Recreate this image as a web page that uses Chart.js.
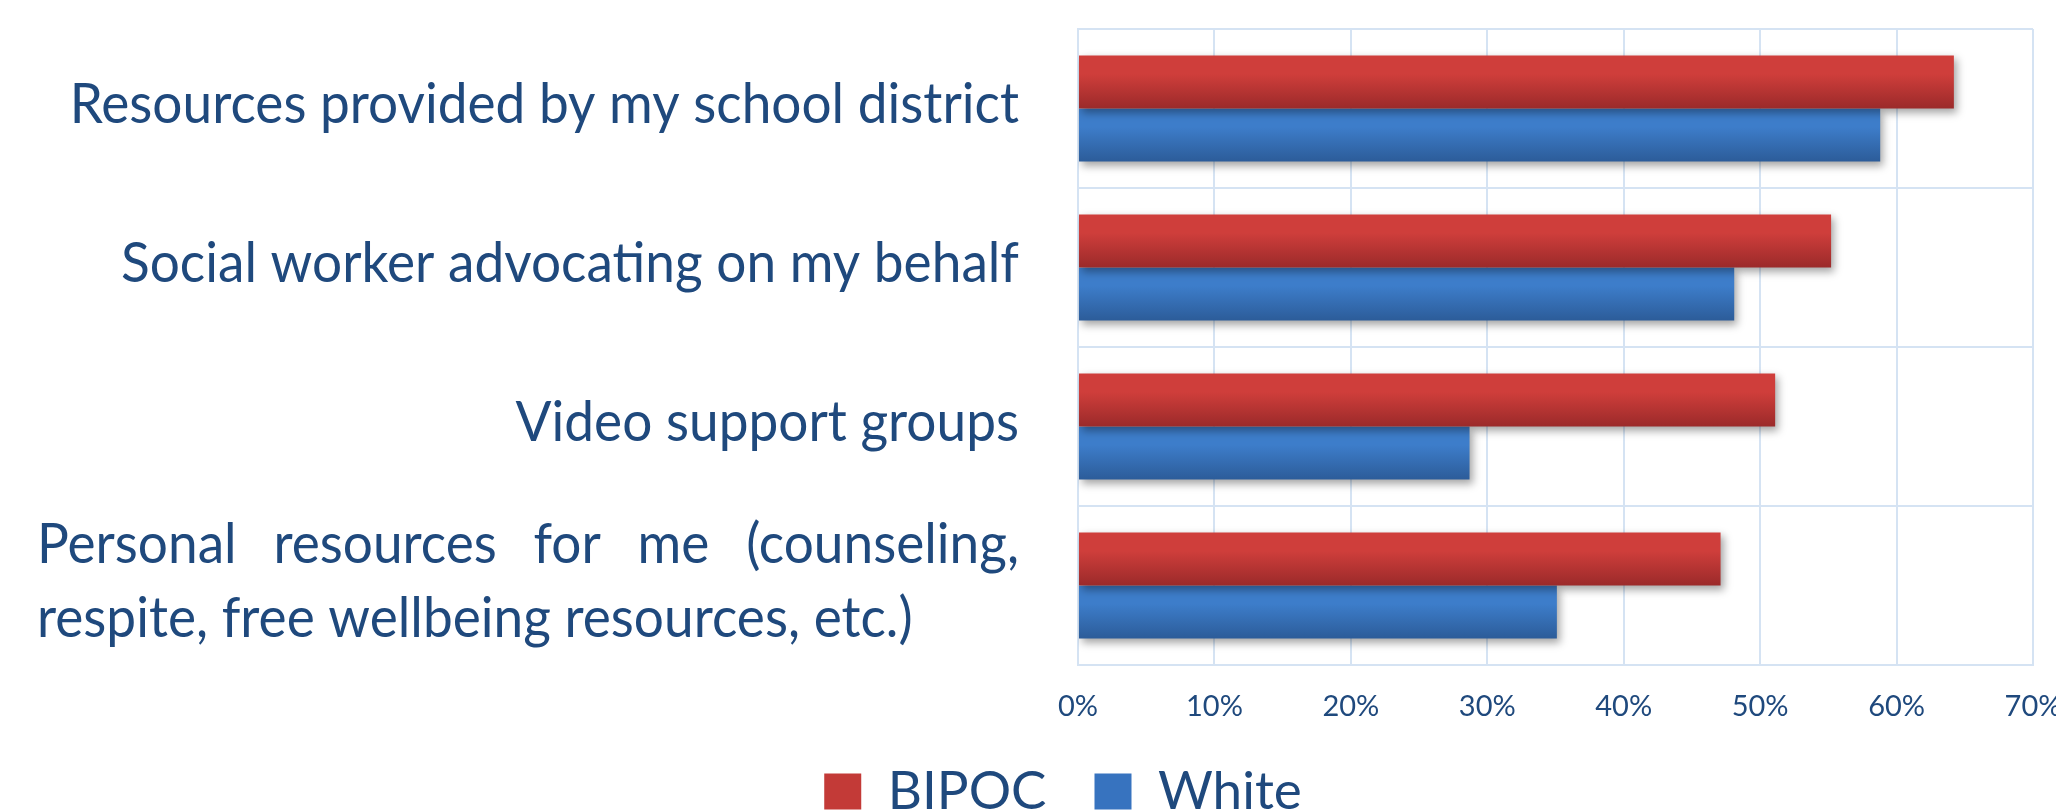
<!DOCTYPE html>
<html><head><meta charset="utf-8">
<script src="https://cdn.jsdelivr.net/npm/chart.js@4"></script>
<style>html,body{margin:0;padding:0;background:#fff}#wrap{width:2056px;height:812px}</style>
</head><body><div id="wrap"><canvas id="c" width="2056" height="812"></canvas></div>
<script>
const categories = [
  'Resources provided by my school district',
  'Social worker advocating on my behalf',
  'Video support groups',
  ['Personal resources for me (counseling,', 'respite, free wellbeing resources, etc.)']
];
const seriesNames = ['BIPOC', 'White'];
const bipocValues = [64.2, 55.2, 51.1, 47.1];
const whiteValues = [58.8, 48.1, 28.7, 35.1];
const xTickValues = [0, 10, 20, 30, 40, 50, 60, 70];

const TEXT = '#1F497D';
const GRID = '#D5E3F3';
const CAT_PCT = 0.667;
const legendCols = ['#C33A37', '#3773BF'];

function gradientFill(topCol, botCol, midCol) {
  return function (c) {
    const chart = c.chart;
    if (c.dataIndex === undefined) return midCol;
    if (!chart.chartArea || !chart.scales.y) return midCol;
    const ys = chart.scales.y;
    const yc = ys.getPixelForValue(c.dataIndex);
    const band = Math.abs(ys.getPixelForValue(1) - ys.getPixelForValue(0));
    const size = band * CAT_PCT / 2;
    const top = yc - band * CAT_PCT / 2 + c.datasetIndex * size;
    if (!isFinite(top)) return midCol;
    const g = chart.ctx.createLinearGradient(0, top, 0, top + size);
    g.addColorStop(0, topCol);
    g.addColorStop(0.35, topCol);
    g.addColorStop(1, botCol);
    return g;
  };
}

const shadowPlugin = {
  id: 'barShadow',
  beforeDatasetsDraw(chart) {
    const ctx = chart.ctx;
    ctx.save();
    ctx.shadowColor = 'rgba(0,0,0,0.35)';
    ctx.shadowBlur = 8;
    ctx.shadowOffsetX = 3;
    ctx.shadowOffsetY = 4;
  },
  afterDatasetsDraw(chart) { chart.ctx.restore(); }
};

const yLabelPlugin = {
  id: 'yLabels',
  afterDraw(chart) {
    const ctx = chart.ctx, ys = chart.scales.y, ca = chart.chartArea;
    const sx = 0.933, lh = 74.5, dy = -4;
    const right = ca.left - 59;
    const left = ca.left - 1041;
    ctx.save();
    ctx.fillStyle = TEXT;
    ctx.font = '57px Lato';
    ctx.textBaseline = 'middle';
    categories.forEach((lab, i) => {
      const yc = ys.getPixelForValue(i) + dy;
      if (Array.isArray(lab)) {
        const n = lab.length;
        lab.forEach((line, k) => {
          const y = yc + (k - (n - 1) / 2) * lh;
          ctx.save();
          ctx.translate(left, y);
          ctx.scale(sx, 1);
          ctx.textAlign = 'left';
          if (k < n - 1) {
            const w = ctx.measureText(line).width;
            const gaps = line.split(' ').length - 1;
            const ws = ((right - left) / sx - w) / gaps;
            try { ctx.wordSpacing = ws + 'px'; } catch (e) {}
          }
          ctx.fillText(line, 0, 0);
          ctx.restore();
        });
      } else {
        ctx.save();
        ctx.translate(right, yc);
        ctx.scale(sx, 1);
        ctx.textAlign = 'right';
        ctx.fillText(lab, 0, 0);
        ctx.restore();
      }
    });
    ctx.restore();
  }
};

new Chart(document.getElementById('c'), {
  type: 'bar',
  data: {
    labels: categories,
    datasets: [
      {
        label: seriesNames[0],
        data: bipocValues,
        backgroundColor: gradientFill('#CF3E3B', '#9B2A2A', legendCols[0]),
        borderWidth: 0,
        categoryPercentage: CAT_PCT,
        barPercentage: 1.0
      },
      {
        label: seriesNames[1],
        data: whiteValues,
        backgroundColor: gradientFill('#3D7DCA', '#2C5C99', legendCols[1]),
        borderWidth: 0,
        categoryPercentage: CAT_PCT,
        barPercentage: 1.0
      }
    ]
  },
  options: {
    indexAxis: 'y',
    responsive: false,
    animation: false,
    devicePixelRatio: 1,
    layout: { padding: { top: 29, left: 93, right: 23, bottom: -16 } },
    scales: {
      x: {
        min: 0,
        max: 70,
        afterBuildTicks: s => { s.ticks = xTickValues.map(v => ({ value: v })); },
        afterFit: s => { s.height = 52; s.paddingLeft = 0; s.paddingRight = 0; },
        grid: { color: GRID, lineWidth: 2, drawTicks: false },
        border: { color: GRID, width: 2 },
        ticks: {
          color: TEXT,
          font: { family: 'Lato', size: 29 },
          padding: 24,
          maxRotation: 0,
          callback: v => v + '%'
        }
      },
      y: {
        afterFit: s => { s.width = 985; },
        grid: { color: GRID, lineWidth: 2, drawTicks: false, offset: true },
        border: { color: GRID, width: 2 },
        ticks: { display: false }
      }
    },
    plugins: {
      legend: {
        position: 'bottom',
        labels: {
          color: TEXT,
          font: { family: 'Lato', size: 53 },
          boxWidth: 37,
          boxHeight: 36,
          padding: 48,
          generateLabels: chart => {
            const items = Chart.defaults.plugins.legend.labels.generateLabels(chart);
            items.forEach((it, i) => { it.fillStyle = legendCols[i]; it.strokeStyle = legendCols[i]; it.lineWidth = 0; });
            return items;
          }
        }
      },
      tooltip: { enabled: false },
      title: { display: false }
    }
  },
  plugins: [shadowPlugin, yLabelPlugin]
});
</script>
</body></html>
